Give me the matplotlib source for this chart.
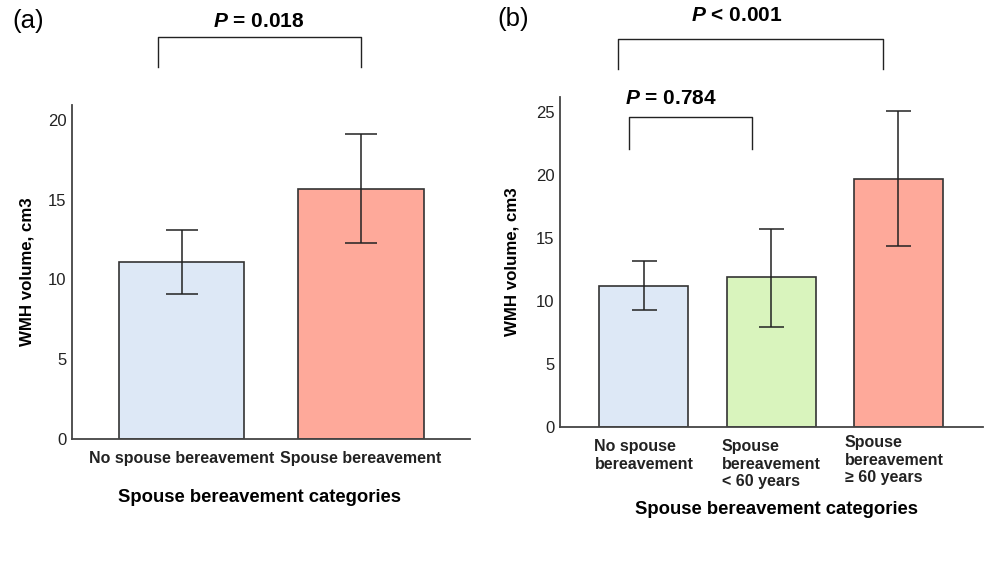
import numpy as np
import matplotlib
matplotlib.use('Agg')
import matplotlib.pyplot as plt
import matplotlib.transforms as mtransforms

plt.rcParams['font.family'] = ['Liberation Sans', 'DejaVu Sans']
plt.rcParams['mathtext.fontset'] = 'custom'
plt.rcParams['mathtext.it'] = 'Liberation Sans:italic:bold'
plt.rcParams['mathtext.bf'] = 'Liberation Sans:bold'

## panel (a) data
cats_a = ['No spouse bereavement', 'Spouse bereavement']
mean_a = [11.1, 15.7]
low_a = [9.1, 12.3]
high_a = [13.1, 19.1]
colors_a = ['#dde8f6', '#fea99a']
yticks_a = [0, 5, 10, 15, 20]

## panel (b) data
cats_b = ['No spouse\nbereavement', 'Spouse\nbereavement\n< 60 years', 'Spouse\nbereavement\n\u2265 60 years']
mean_b = [11.2, 11.9, 19.7]
low_b = [9.25, 7.9, 14.35]
high_b = [13.2, 15.75, 25.05]
colors_b = ['#dde8f6', '#d9f4bd', '#fea99a']
yticks_b = [0, 5, 10, 15, 20, 25]

## significance brackets: (x left, x right, y bottom, y top, text x, text y, text)
brackets_a = [(-0.13, 1.0, 23.3, 25.2, 0.43, 26.2, r'$\it{P}$ = 0.018')]
brackets_b = [(-0.2, 1.88, 28.4, 30.8, 0.73, 32.7, r'$\it{P}$ < 0.001'),
              (-0.12, 0.85, 22.1, 24.6, 0.21, 26.1, r'$\it{P}$ = 0.784')]

fig = plt.figure(figsize=(9.89, 5.69), dpi=100)
ax_a = fig.add_axes([0.0728, 0.2285, 0.4024, 0.587])
ax_b = fig.add_axes([0.5662, 0.2496, 0.4277, 0.58])


def draw_panel(ax, cats, mean, low, high, colors, yticks, capsize, brackets, ymax, xlim):
    x = np.arange(len(cats))
    mean = np.array(mean)
    yerr = [mean - np.array(low), np.array(high) - mean]
    ax.bar(x, mean, width=0.7, color=colors, edgecolor='#333333', linewidth=1.2,
           yerr=yerr, capsize=capsize,
           error_kw=dict(ecolor='#222222', elinewidth=1.1, capthick=1.1))
    ax.set_xlim(*xlim)
    ax.set_ylim(0, ymax)
    ax.set_yticks(yticks)
    for s in ['top', 'right']:
        ax.spines[s].set_visible(False)
    for s in ['left', 'bottom']:
        ax.spines[s].set_color('#444444')
        ax.spines[s].set_linewidth(1.3)
    ax.tick_params(axis='both', length=0, labelsize=12, colors='#222222')
    ax.tick_params(axis='y', pad=4)
    ax.tick_params(axis='x', pad=9)
    ax.set_xticks(x)
    ax.set_xticklabels(cats, fontweight='bold', fontsize=11.5, multialignment='left',
                       linespacing=1.2)
    ax.set_ylabel('WMH volume, cm3', fontweight='bold', fontsize=12.2)
    ax.yaxis.set_label_coords(-0.095, 0.5)
    for x0, x1, y0, y1, tx, ty, txt in brackets:
        ax.plot([x0, x0, x1, x1], [y0, y1, y1, y0], color='#222222', lw=1.0,
                clip_on=False)
        ax.text(tx, ty, txt, ha='center', va='center', fontsize=15,
                fontweight='bold', clip_on=False)


draw_panel(ax_a, cats_a, mean_a, low_a, high_a, colors_a, yticks_a, 11.5, brackets_a,
           20.94, (-0.61, 1.607))
draw_panel(ax_b, cats_b, mean_b, low_b, high_b, colors_b, yticks_b, 9, brackets_b,
           26.2, (-0.66, 2.665))

## last label in (b) sits a little higher in the original
lbl = ax_b.get_xticklabels()[2]
lbl.set_transform(lbl.get_transform() +
                  mtransforms.ScaledTranslation(-3 / 72, 3 / 72, fig.dpi_scale_trans))

ax_a.text(0.47, -0.174, 'Spouse bereavement categories', transform=ax_a.transAxes,
          ha='center', va='center', fontweight='bold', fontsize=13.3)
ax_b.text(0.513, -0.2515, 'Spouse bereavement categories', transform=ax_b.transAxes,
          ha='center', va='center', fontweight='bold', fontsize=13.3)

fig.text(12 / 989, 1 - 21 / 569, '(a)', ha='left', va='center', fontsize=18.5)
fig.text(497 / 989, 1 - 19 / 569, '(b)', ha='left', va='center', fontsize=18.5)

fig.savefig('out.png', dpi=100)
